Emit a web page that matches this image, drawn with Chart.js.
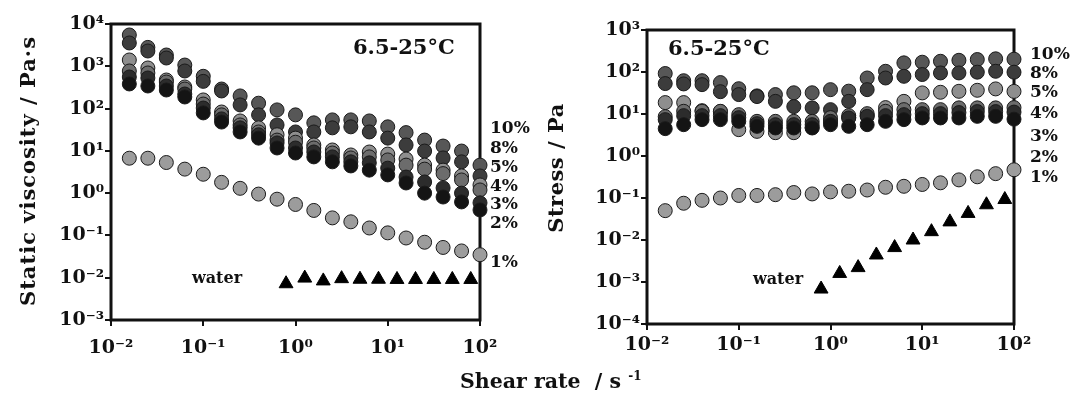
<!DOCTYPE html>
<html>
<head>
<meta charset="utf-8">
<script src="https://cdn.jsdelivr.net/npm/chart.js@4.4.0/dist/chart.umd.min.js"></script>
<style>
  body { margin: 0; background: #fff; width: 1073px; height: 417px; position: relative; overflow: hidden; }
  canvas { position: absolute; top: 0; }
  #viscChart { left: 0; }
  #stressChart { left: 540px; }
  #xtitle { position: absolute; top: 369px; left: 460px; font: bold 20.5px "DejaVu Serif"; color: #111; white-space: nowrap; }
  #xtitle sup { font-size: 12px; }
</style>
</head>
<body>
<canvas id="viscChart" width="540" height="417"></canvas>
<canvas id="stressChart" width="533" height="417"></canvas>
<div id="xtitle">Shear rate&nbsp; / s <sup>-1</sup></div>
<script>
// shear rates (s-1)
const shearRate = [0.0158, 0.0251, 0.0398, 0.0631, 0.1, 0.158, 0.251, 0.398, 0.631, 1.0,
  1.58, 2.51, 3.98, 6.31, 10, 15.8, 25.1, 39.8, 63.1, 100];
const waterRate = [0.79, 1.26, 2.0, 3.16, 5.0, 7.94, 12.6, 20, 31.6, 50.1, 79.4];

const concLabels = ["10%", "8%", "5%", "4%", "3%", "2%", "1%"];

// static viscosity (Pa s)
const visc10 = [5500, 2800, 1850, 1070, 580, 290, 199, 134, 93, 71, 46, 54, 54, 51, 37, 27, 18, 13, 9.9, 4.6];
const visc8 = [3560, 2300, 1570, 774, 440, 261, 122, 71, 41, 28, 28, 35, 37, 28, 20, 13.8, 9.9, 6.8, 5.5, 2.55];
const visc5 = [1410, 912, 474, 324, 160, 83, 51, 35, 24, 20, 13.8, 10.5, 8.0, 9.4, 8.4, 6.4, 4.6, 3.5, 2.55, 1.56];
const visc4 = [774, 695, 425, 290, 128, 71, 41, 28, 18, 16, 11.7, 8.9, 6.8, 7.2, 6.1, 4.6, 3.7, 2.9, 2.05, 1.19];
const visc3 = [558, 529, 342, 221, 103, 57, 35, 24, 15.4, 11.7, 9.4, 7.2, 5.5, 5.2, 3.9, 2.4, 1.84, 1.33, 1.0, 0.59];
const visc2 = [382, 342, 275, 188, 79, 48, 28, 20, 11.7, 8.9, 7.2, 5.5, 4.4, 3.5, 2.7, 1.74, 1.0, 0.81, 0.62, 0.40];
const visc1 = [6.7, 6.7, 5.3, 3.7, 2.8, 1.8, 1.3, 0.95, 0.72, 0.54, 0.39, 0.26, 0.21, 0.15, 0.115, 0.087, 0.069, 0.052, 0.043, 0.035];
const viscWater = [0.0072, 0.0098, 0.0084, 0.0095, 0.0092, 0.0092, 0.0091, 0.0091, 0.0091, 0.0091, 0.0091];

// stress (Pa)
const stress10 = [92, 62, 62, 56, 40, 27, 29, 32, 32, 38, 35, 72, 104, 165, 171, 180, 190, 198, 206, 202];
const stress8 = [53, 52, 50, 34, 29, 26, 20, 15, 14, 12.7, 20, 38, 72, 79, 87, 95, 95, 99, 104, 99];
const stress5 = [18.7, 18.7, 12.0, 11.4, 4.24, 3.86, 3.59, 3.59, 4.73, 6.58, 8.19, 9.14, 14.2, 20.0, 31.8, 32.9, 34.7, 36.7, 39.6, 34.5];
const stress4 = [8.65, 11.6, 11.6, 11.6, 9.66, 6.69, 6.69, 6.69, 6.69, 8.19, 9.14, 10.2, 11.6, 12.7, 12.7, 12.7, 14.0, 14.0, 14.0, 14.2];
const stress3 = [7.34, 9.14, 9.14, 9.14, 8.19, 5.89, 5.57, 5.57, 5.57, 6.69, 8.06, 8.79, 9.14, 9.66, 10.2, 10.2, 10.8, 11.4, 11.4, 11.1];
const stress2 = [4.48, 5.57, 7.34, 7.34, 6.69, 5.08, 4.65, 4.65, 4.65, 5.57, 5.08, 5.57, 6.69, 7.34, 8.06, 8.06, 8.06, 8.79, 8.79, 7.54];
const stress1 = [0.05, 0.075, 0.088, 0.10, 0.115, 0.115, 0.12, 0.135, 0.125, 0.14, 0.145, 0.155, 0.18, 0.19, 0.21, 0.23, 0.27, 0.32, 0.38, 0.47];
const stressWater = [0.00068, 0.0016, 0.0022, 0.0044, 0.0066, 0.010, 0.0158, 0.027, 0.043, 0.069, 0.092];

// axis ticks
const xTicks = [0.01, 0.1, 1, 10, 100];
const xTickLabels = ["10⁻²", "10⁻¹", "10⁰", "10¹", "10²"];
const viscTicks = [0.001, 0.01, 0.1, 1, 10, 100, 1000, 10000];
const viscTickLabels = ["10⁻³", "10⁻²", "10⁻¹", "10⁰", "10¹", "10²", "10³", "10⁴"];
const stressTicks = [0.0001, 0.001, 0.01, 0.1, 1, 10, 100, 1000];
const stressTickLabels = ["10⁻⁴", "10⁻³", "10⁻²", "10⁻¹", "10⁰", "10¹", "10²", "10³"];

const ink = "#111";
const serif = "DejaVu Serif";
const seriesColors = ["#575757", "#3c3c3c", "#8e8e8e", "#6c6c6c", "#2c2c2c", "#141414", "#9c9c9c"];

function toPoints(xs, ys) {
  return ys.map((y, i) => ({ x: xs[i], y }));
}

function makeDatasets(series, water) {
  const sets = [{
    data: toPoints(waterRate, water),
    pointStyle: "triangle",
    pointRadius: 8,
    pointBackgroundColor: "#000",
    pointBorderColor: "#000",
    pointBorderWidth: 1,
    clip: false,
  }];
  // draw 1% first, 10% last
  for (let i = series.length - 1; i >= 0; i--) {
    sets.push({
      label: concLabels[i],
      data: toPoints(shearRate, series[i]),
      pointRadius: 7,
      pointBackgroundColor: seriesColors[i],
      pointBorderColor: "#1a1a1a",
      pointBorderWidth: 1,
      clip: false,
    });
  }
  return sets;
}

// box around the plot area
const framePlugin = {
  id: "frame",
  beforeDatasetsDraw(chart) {
    const { ctx, chartArea: a } = chart;
    ctx.save();
    ctx.lineWidth = 3;
    ctx.strokeStyle = ink;
    ctx.strokeRect(a.left, a.top, a.right - a.left, a.bottom - a.top);
    ctx.restore();
  },
};

function textPlugin(texts) {
  return {
    id: "notes",
    afterDraw(chart) {
      const ctx = chart.ctx;
      texts.forEach(t => {
        ctx.save();
        ctx.fillStyle = ink;
        ctx.textBaseline = "middle";
        ctx.font = `bold ${t.size}px "${serif}"`;
        ctx.textAlign = t.align || "left";
        if (t.spacing) ctx.letterSpacing = t.spacing + "px";
        ctx.translate(t.x, t.y);
        if (t.rotate) ctx.rotate(-Math.PI / 2);
        ctx.fillText(t.text, 0, 0);
        ctx.restore();
      });
    },
  };
}

function panel(id, o) {
  const tickFont = { family: serif, size: 19, weight: "bold" };
  const tickGrid = { display: true, drawOnChartArea: false, drawTicks: true, tickLength: 6, lineWidth: 2, color: ink };
  return new Chart(document.getElementById(id), {
    type: "scatter",
    data: { datasets: o.datasets },
    options: {
      responsive: false,
      animation: false,
      layout: { padding: { top: o.top, right: o.right, left: 0, bottom: 0 } },
      plugins: { legend: { display: false }, tooltip: { enabled: false } },
      scales: {
        x: {
          type: "logarithmic",
          min: 0.01,
          max: 100,
          afterBuildTicks: s => { s.ticks = xTicks.map(v => ({ value: v })); },
          afterFit: s => { s.height = o.xh; },
          ticks: {
            callback: (v, i) => xTickLabels[i],
            font: tickFont, color: ink, padding: o.xpad, maxRotation: 0, autoSkip: false,
          },
          grid: tickGrid,
          border: { display: false },
        },
        y: {
          type: "logarithmic",
          min: o.yTicks[0],
          max: o.yTicks[o.yTicks.length - 1],
          afterBuildTicks: s => { s.ticks = o.yTicks.map(v => ({ value: v })); },
          afterFit: s => { s.width = o.yw; },
          ticks: {
            callback: (v, i) => o.yTickLabels[i],
            font: tickFont, color: ink, padding: 1, autoSkip: false,
          },
          grid: tickGrid,
          border: { display: false },
        },
      },
    },
    plugins: [framePlugin, textPlugin(o.texts)],
  });
}

const viscPctY = [129, 149, 168, 187, 205, 224, 263];
const stressPctY = [55, 74, 93, 114, 137, 158, 178];

panel("viscChart", {
  datasets: makeDatasets([visc10, visc8, visc5, visc4, visc3, visc2, visc1], viscWater),
  yTicks: viscTicks,
  yTickLabels: viscTickLabels,
  top: 24, right: 60, yw: 111, xh: 97, xpad: 11,
  texts: [
    { text: "Static viscosity / Pa·s", x: 30, y: 171, size: 21, spacing: 1, align: "center", rotate: true },
    { text: "6.5-25°C", x: 353, y: 49, size: 21 },
    { text: "water", x: 217, y: 279, size: 16, align: "center" },
    ...concLabels.map((t, i) => ({ text: t, x: 490, y: viscPctY[i], size: 17 })),
  ],
});

panel("stressChart", {
  datasets: makeDatasets([stress10, stress8, stress5, stress4, stress3, stress2, stress1], stressWater),
  yTicks: stressTicks,
  yTickLabels: stressTickLabels,
  top: 30, right: 59, yw: 107, xh: 93, xpad: 4,
  texts: [
    { text: "Stress / Pa", x: 18, y: 168, size: 21, spacing: 0.5, align: "center", rotate: true },
    { text: "6.5-25°C", x: 128, y: 50, size: 21 },
    { text: "water", x: 238, y: 280, size: 16, align: "center" },
    ...concLabels.map((t, i) => ({ text: t, x: 490, y: stressPctY[i], size: 17 })),
  ],
});
</script>
</body>
</html>
